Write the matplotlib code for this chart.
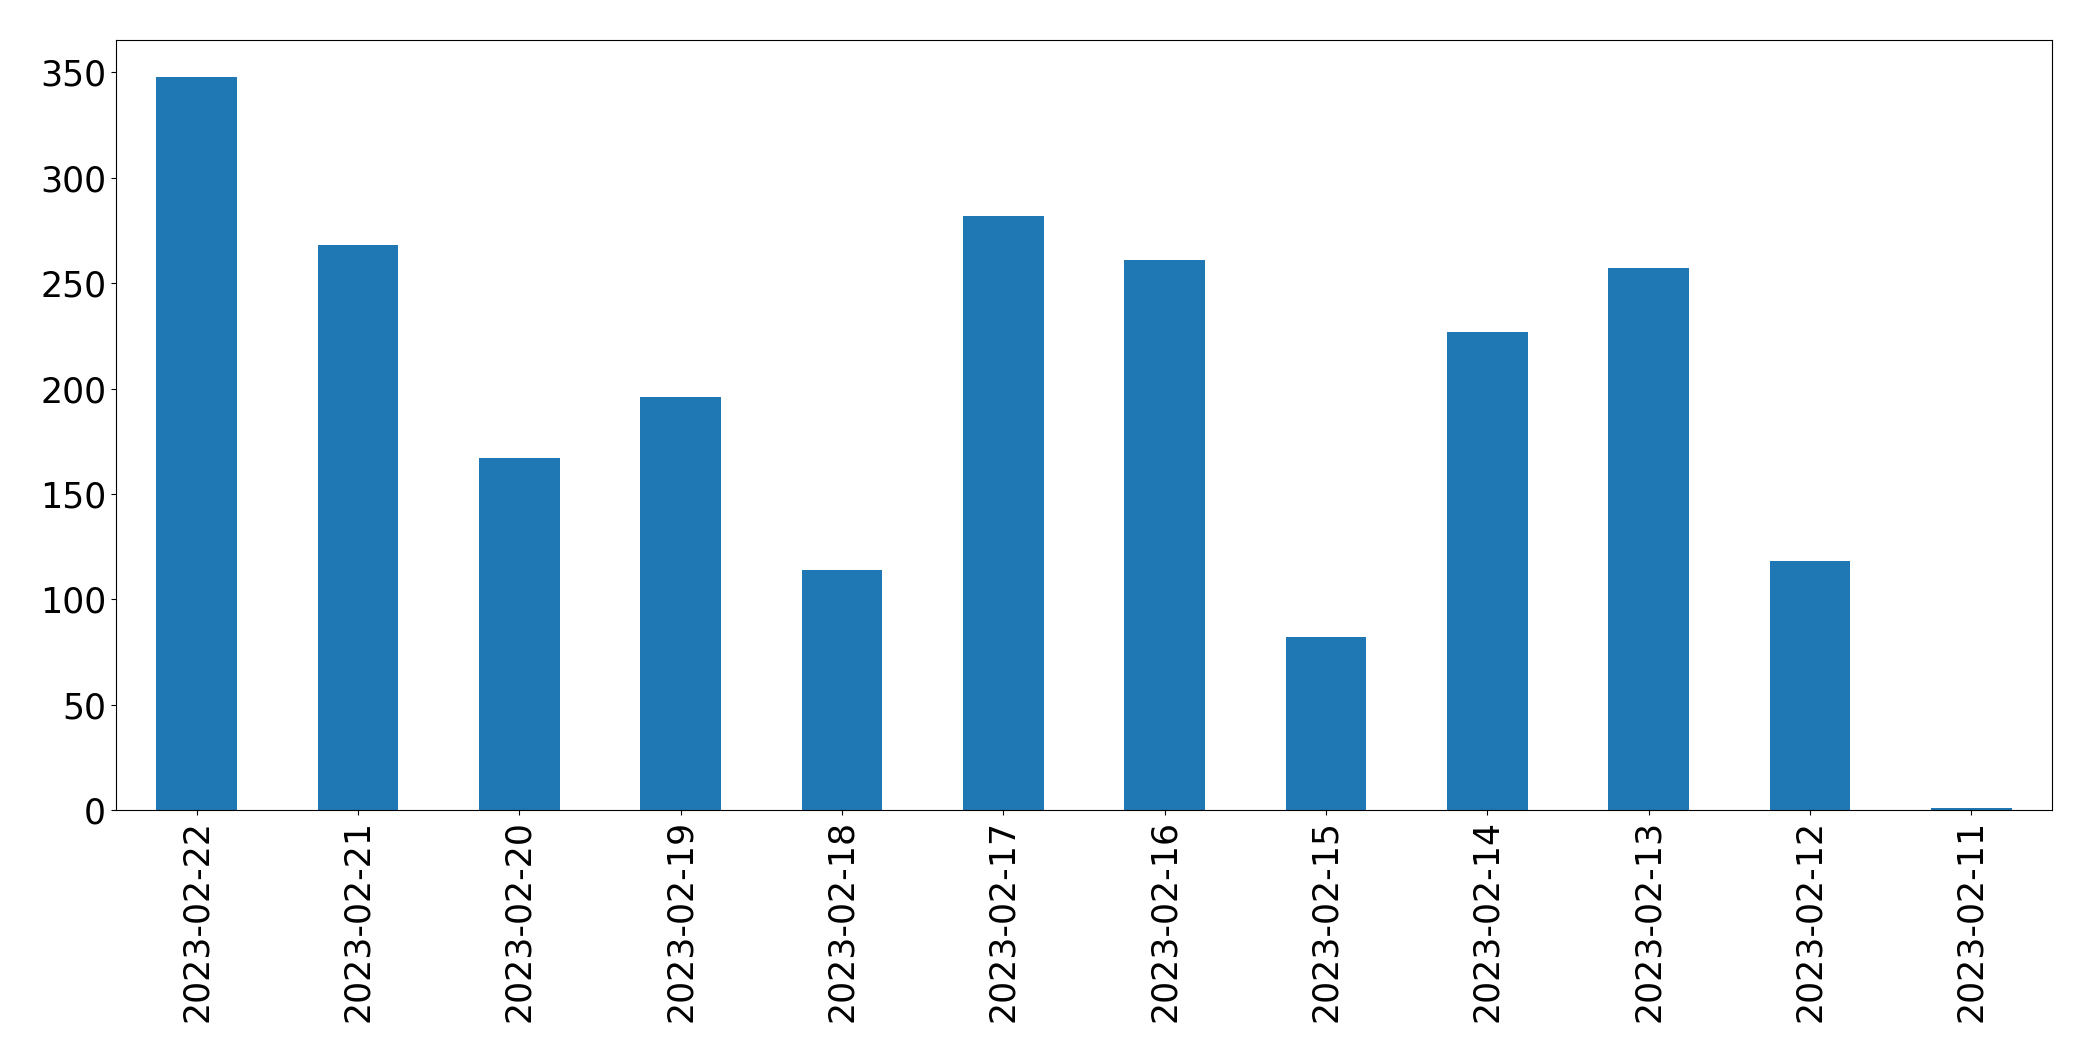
import matplotlib
matplotlib.use("Agg")
import matplotlib.pyplot as plt

dates = ["2023-02-22", "2023-02-21", "2023-02-20", "2023-02-19", "2023-02-18",
         "2023-02-17", "2023-02-16", "2023-02-15", "2023-02-14", "2023-02-13",
         "2023-02-12", "2023-02-11"]
counts = [348, 268, 167, 196, 114, 282, 261, 82, 227, 257, 118, 1]

fig = plt.figure(figsize=(20.93, 10.61), dpi=100)
ax = fig.add_axes([0.0554, 0.2366, 0.925, 0.7257])
x = list(range(len(dates)))
ax.bar(x, counts, width=0.5, color="#1f77b4")
ax.set_xlim(-0.5, len(dates) - 0.5)
ax.set_xticks(x)
ax.set_xticklabels(dates, rotation=90, fontsize=25)
ax.tick_params(axis="y", labelsize=25)
fig.savefig("out.png", dpi=100)
